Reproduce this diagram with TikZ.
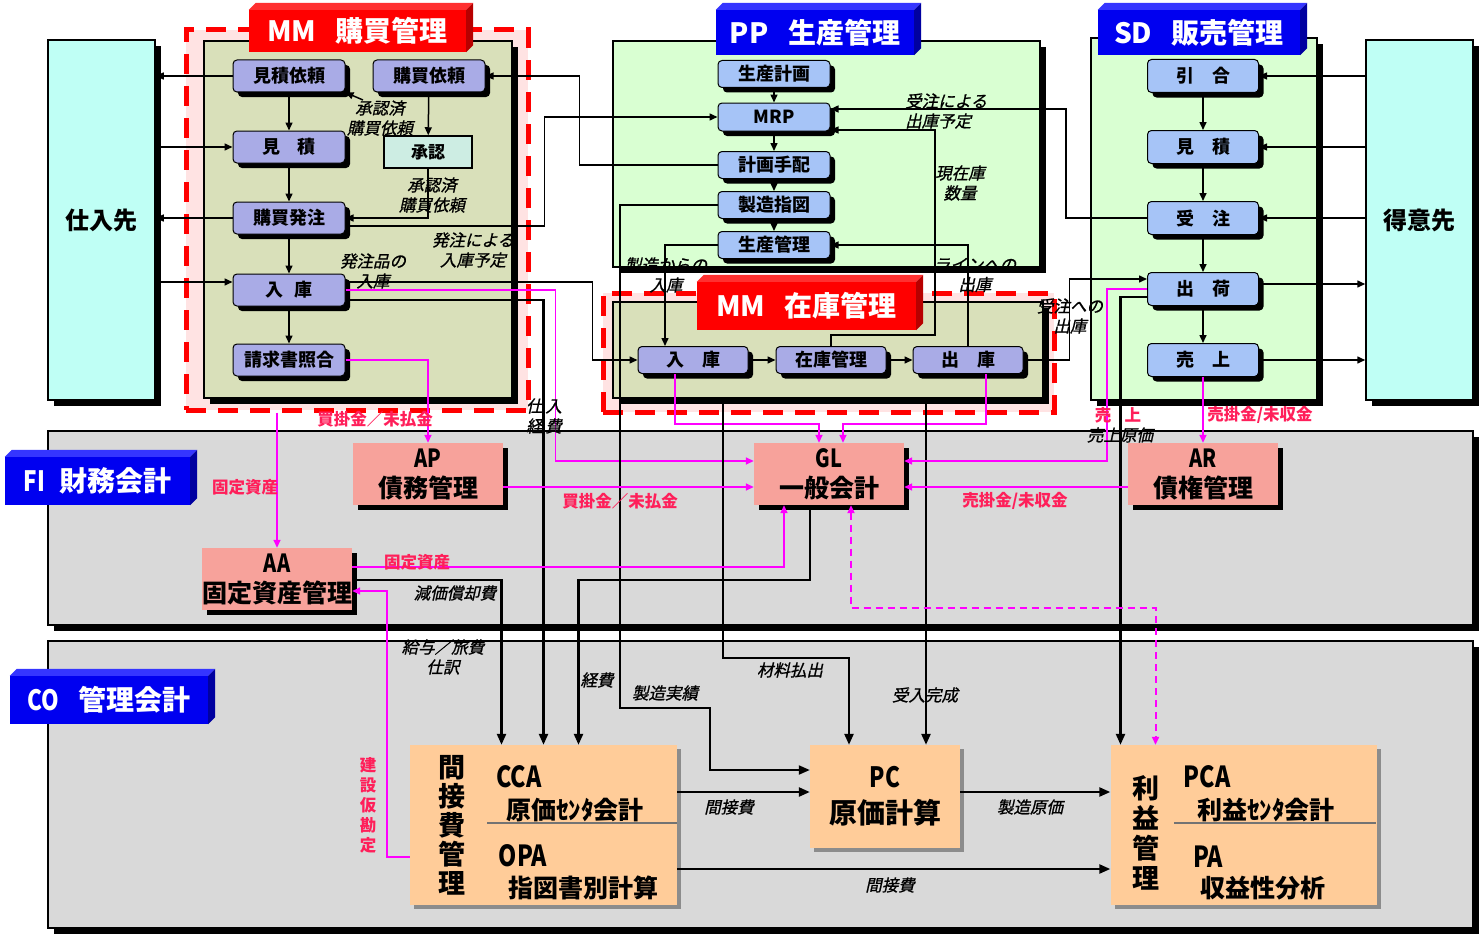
\documentclass[tikz,border=0pt]{standalone}
\usepackage{fontspec}
\setmainfont{Noto Sans CJK JP}[AutoFakeSlant=0.22]
\newfontfamily\nar{Noto Sans CJK JP}[FakeStretch=0.8]
\newfontfamily\lbfont{Noto Sans CJK JP}[FakeSlant=0.22,FakeBold=1]
\usepackage{tikz}
\usetikzlibrary{arrows.meta,positioning,calc,shadows}
\definecolor{cyanbox}{HTML}{BFFFF5}
\definecolor{olivebg}{HTML}{D9E0BA}
\definecolor{pinkbg}{HTML}{FFE3E3}
\definecolor{greenbg}{HTML}{D9FFD2}
\definecolor{graybg}{HTML}{D9D9D9}
\definecolor{lavnode}{HTML}{A9ABE6}
\definecolor{bluenode}{HTML}{A6C4F7}
\definecolor{apprbox}{HTML}{CDEDE3}
\definecolor{salmon}{HTML}{F7A29B}
\definecolor{peach}{HTML}{FFCC99}
\definecolor{banred}{HTML}{FF0000}
\definecolor{banredtop}{HTML}{FF3030}
\definecolor{banredside}{HTML}{B80000}
\definecolor{banblue}{HTML}{0000F0}
\definecolor{banbluetop}{HTML}{3535FF}
\definecolor{banblueside}{HTML}{0000A0}
\definecolor{mgnt}{HTML}{FF00FF}
\definecolor{lblred}{HTML}{FF1F5A}
\newcommand{\fz}[2]{\fontsize{#1}{#2}\selectfont}
% 3D-kant till rubrikskyltarna
\newcommand{\bandepth}[3]{%
  \fill[#2] (#1.north west) -- ++(7,-7) -- ([shift={(7,-7)}]#1.north east) -- (#1.north east) -- cycle;
  \fill[#3] (#1.north east) -- ++(7,-7) -- ([shift={(7,-7)}]#1.south east) -- (#1.south east) -- cycle;}
\tikzset{
  >={Triangle[length=8pt,width=7pt]},
  % ramar
  pnl/.style={rectangle,draw=black,line width=1.5pt,inner sep=0pt,
              drop shadow={shadow xshift=6pt,shadow yshift=-6pt,fill=black,opacity=1}},
  dfr/.style={rectangle,draw=banred,fill=pinkbg,line width=5pt,inner sep=0pt,
              dash pattern=on 20pt off 12pt},
  banr/.style={rectangle,fill=banred,text=white,inner sep=0pt,font=\fz{28}{28}\bfseries},
  banb/.style={banr,fill=banblue},
  % moduler
  mmn/.style={rectangle,rounded corners=4pt,draw=black,line width=1pt,fill=lavnode,
              minimum width=112pt,minimum height=32pt,inner sep=0pt,font=\fz{18}{18}\bfseries,
              drop shadow={shadow xshift=5pt,shadow yshift=-5pt,fill=black,opacity=1}},
  ppn/.style={mmn,fill=bluenode},
  apr/.style={rectangle,draw=black,line width=1.5pt,fill=apprbox,minimum width=88pt,
              minimum height=32pt,inner sep=0pt,font=\fz{17}{17}\bfseries},
  fin/.style={rectangle,fill=salmon,minimum width=150pt,minimum height=62pt,inner sep=0pt,
              align=center,font=\fz{25}{30}\bfseries,
              drop shadow={shadow xshift=5pt,shadow yshift=-5pt,fill=black,opacity=1}},
  con/.style={rectangle,fill=peach,inner sep=0pt,
              drop shadow={shadow xshift=4pt,shadow yshift=-4pt,fill=black!45,opacity=1}},
  ctx/.style={inner sep=0pt,align=center,font=\fz{25}{25}\bfseries},
  % flöden
  fl/.style={->,draw=black,line width=1.5pt},
  fk/.style={-{Triangle[length=11pt,width=9pt]},draw=black,line width=2.4pt},
  mg/.style={->,draw=mgnt,line width=1.5pt},
  lb/.style={inner sep=0pt,align=center,font=\lbfont\fz{16.5}{20}},
  rl/.style={lb,text=lblred,font=\fz{16.5}{20}\itshape\bfseries},
}
\begin{document}
\begin{tikzpicture}[x=1pt,y=-1pt]
  \useasboundingbox (0,0) rectangle (1481,934);

  % ramar
  \node[pnl,fill=graybg,minimum width=1425pt,minimum height=194pt] (fip) at (760.5,528) {};
  \node[pnl,fill=graybg,minimum width=1425pt,minimum height=287pt] (cop) at (760.5,784.5) {};
  \node[pnl,fill=cyanbox,minimum width=107pt,minimum height=360pt,font=\fz{24}{24}\bfseries]
     (vend) at (101.5,220) {仕入先};
  \node[pnl,fill=cyanbox,minimum width=107pt,minimum height=360pt,font=\fz{24}{24}\bfseries]
     (cust) at (1419.5,220) {得意先};
  \node[dfr,minimum width=342pt,minimum height=380pt] (mmx) at (357,220) {};
  \node[pnl,fill=olivebg,minimum width=308pt,minimum height=357pt] (mmp) at (358,219.5) {};
  \node[pnl,fill=greenbg,minimum width=427pt,minimum height=226pt] (ppp) at (826.5,154) {};
  \node[pnl,fill=greenbg,minimum width=226pt,minimum height=362pt] (sdp) at (1204,219) {};
  \node[dfr,minimum width=451pt,minimum height=119pt] (inx) at (828.5,352.5) {};
  \node[pnl,fill=olivebg,minimum width=430pt,minimum height=96pt] (inp) at (828,350) {};

  % skyltar
  \node[banr,minimum width=217pt,minimum height=42pt] (mmt) at (357.5,31) {MM\hspace{.7em}購買管理};
  \bandepth{mmt}{banredtop}{banredside}
  \node[banb,minimum width=198pt,minimum height=45pt] (ppt) at (815,32.5) {PP\hspace{.7em}生産管理};
  \bandepth{ppt}{banbluetop}{banblueside}
  \node[banb,minimum width=202pt,minimum height=45pt] (sdt) at (1199,32.5) {SD\hspace{.7em}販売管理};
  \bandepth{sdt}{banbluetop}{banblueside}
  \node[banr,minimum width=219pt,minimum height=48pt] (invt) at (806.5,306) {MM\hspace{.7em}在庫管理};
  \bandepth{invt}{banredtop}{banredside}
  \node[banb,minimum width=185pt,minimum height=48pt] (fit) at (97.5,481) {{\nar FI}\hspace{.5em}財務会計};
  \bandepth{fit}{banbluetop}{banblueside}
  \node[banb,minimum width=198pt,minimum height=48pt] (cot) at (109,700) {{\nar CO}\hspace{.7em}管理会計};
  \bandepth{cot}{banbluetop}{banblueside}

  % MM購買
  \node[mmn] (qreq) at (289,76) {見積依頼};
  \node[mmn] (preq) at (429,76) {購買依頼};
  \node[mmn,below=38pt of qreq] (quot) {見\hspace{.9em}積};
  \node[apr] (appr) at (428,152) {承認};
  \node[mmn,below=38pt of quot] (po) {購買発注};
  \node[mmn,below=39pt of po] (gr) {入\hspace{.6em}庫};
  \node[mmn,below=37pt of gr] (ivv) {請求書照合};

  % PP
  \node[ppn,minimum height=27pt] (plan) at (774,74) {生産計画};
  \node[ppn,minimum height=28pt] (mrp) at (774,117) {MRP};
  \node[ppn,minimum height=27pt] (plo) at (774,165) {計画手配};
  \node[ppn,minimum height=27pt] (mo) at (774,205) {製造指図};
  \node[ppn,minimum height=27pt] (pctl) at (774,245) {生産管理};

  % MM在庫
  \node[mmn,minimum width=110pt,minimum height=27pt] (igr) at (693,360) {入\hspace{1em}庫};
  \node[mmn,minimum width=110pt,minimum height=27pt,right=27pt of igr] (stk) {在庫管理};
  \node[mmn,minimum width=110pt,minimum height=27pt,right=26pt of stk] (igi) {出\hspace{1em}庫};

  % SD
  \node[ppn,minimum width=111pt,minimum height=33pt] (inq) at (1203,76) {引\hspace{1em}合};
  \node[ppn,minimum width=111pt,minimum height=33pt,below=37pt of inq] (sq) {見\hspace{1em}積};
  \node[ppn,minimum width=111pt,minimum height=33pt,below=37pt of sq] (so) {受\hspace{1em}注};
  \node[ppn,minimum width=111pt,minimum height=33pt,below=37pt of so] (shp) {出\hspace{1em}荷};
  \node[ppn,minimum width=111pt,minimum height=33pt,below=37pt of shp] (sal) {売\hspace{1em}上};

  % FI
  \node[fin] (ap) at (428,474) {{\nar AP}\\債務管理};
  \node[fin] (gl) at (829,474) {{\nar GL}\\一般会計};
  \node[fin] (ar) at (1203,474) {{\nar AR}\\債権管理};
  \node[fin] (aa) at (277,579) {{\nar AA}\\固定資産管理};

  % CO
  \node[con,minimum width=267pt,minimum height=160pt] (ovh) at (543.5,825) {};
  \node[ctx,font=\fz{27}{29}\bfseries] (ovhv) at (452,825) {間\\接\\費\\管\\理};
  \node[ctx,font=\nar\fz{29}{29}\bfseries] (cca) at (519,777) {CCA};
  \node[ctx] (ccat) at (575,810) {原価ｾﾝﾀ会計};
  \draw[draw=black!55,line width=1.5pt] (487,823) -- (677,823);
  \node[ctx,font=\nar\fz{29}{29}\bfseries] (opa) at (523,856) {OPA};
  \node[ctx] (opat) at (583,888) {指図書別計算};
  \node[con,minimum width=150pt,minimum height=103pt,align=center,font=\fz{28}{36}\bfseries]
     (pc) at (885,796.5) {{\nar PC}\\原価計算};
  \node[con,minimum width=266pt,minimum height=160pt] (prf) at (1243.5,825) {};
  \node[ctx,font=\fz{27}{30}\bfseries] (prfv) at (1146,833) {利\\益\\管\\理};
  \node[ctx,font=\nar\fz{29}{29}\bfseries] (pca) at (1207,777) {PCA};
  \node[ctx] (pcat) at (1266,810) {利益ｾﾝﾀ会計};
  \draw[draw=black!55,line width=1.5pt] (1174,823) -- (1376,823);
  \node[ctx,font=\nar\fz{29}{29}\bfseries] (pa) at (1208,857) {PA};
  \node[ctx] (pat) at (1263,888) {収益性分析};

  % hjälppunkter
  \coordinate (aok) at (363,100);
  \coordinate (gr-in) at ([yshift=8pt]gr.west);
  \coordinate (gr-a) at ([yshift=8pt]gr.east);
  \coordinate (gr-c) at ([yshift=-10pt]gr.east);
  \coordinate (po-b) at ([yshift=-8pt]po.east);
  \coordinate (mrp-a) at ([yshift=8pt]mrp.east);
  \coordinate (mrp-b) at ([yshift=-13pt]mrp.east);
  \coordinate (igr-n) at ([xshift=-28pt]igr.north);
  \coordinate (igr-s) at ([xshift=-18pt]igr.south);
  \coordinate (igr-m) at ([xshift=30pt]igr.south);
  \coordinate (igi-s) at ([xshift=18pt]igi.south);
  \coordinate (igi-m) at ([xshift=-42pt]igi.south);
  \coordinate (shp-a) at ([yshift=10pt]shp.west);
  \coordinate (shp-b) at ([yshift=-8pt]shp.west);
  \coordinate (shp-o) at ([yshift=5pt]shp.east);
  \coordinate (gl-a) at ([yshift=13pt]gl.west);
  \coordinate (gl-e1) at ([yshift=13pt]gl.east);
  \coordinate (gl-w2) at ([yshift=-13pt]gl.west);
  \coordinate (gl-e2) at ([yshift=-13pt]gl.east);
  \coordinate (gl-n1) at ([xshift=-10pt]gl.north);
  \coordinate (gl-n2) at ([xshift=14pt]gl.north);
  \coordinate (gl-s1) at ([xshift=-45pt]gl.south);
  \coordinate (gl-s2) at ([xshift=-19pt]gl.south);
  \coordinate (gl-s3) at ([xshift=22pt]gl.south);
  \coordinate (ap-e) at ([yshift=-13pt]ap.east);
  \coordinate (ar-w) at ([yshift=-13pt]ar.west);
  \coordinate (aa-e1) at ([yshift=12pt]aa.east);
  \coordinate (aa-e2) at ([yshift=-1pt]aa.east);
  \coordinate (aa-e3) at ([yshift=-12pt]aa.east);
  \coordinate (ovh-n1) at ([xshift=-42pt]ovh.north);
  \coordinate (ovh-n3) at ([xshift=35pt]ovh.north);
  \coordinate (ovh-w) at ([yshift=-32pt]ovh.west);
  \coordinate (ovh-e1) at ([yshift=33pt]ovh.east);
  \coordinate (ovh-e2) at ([yshift=-44pt]ovh.east);
  \coordinate (pc-a) at ([yshift=26.5pt]pc.west);
  \coordinate (pc-e) at ([yshift=4.5pt]pc.east);
  \coordinate (pc-n1) at ([xshift=-36pt]pc.north);
  \coordinate (pc-n2) at ([xshift=41pt]pc.north);
  \coordinate (prf-n1) at ([xshift=-123pt]prf.north);
  \coordinate (prf-n2) at ([xshift=-88pt]prf.north);

  % MM購買の流れ
  \draw[fl] (qreq) -- (quot);
  \draw[fl] (quot) -- (po);
  \draw[fl] (po) -- (gr);
  \draw[fl] (gr) -- (ivv);
  \draw[fl] (preq) -- (appr);
  \draw[fl] (appr.south) |- (po.east);
  \draw[fl] (aok) -- (qreq.south east);
  \draw[fl] (qreq.west) -- (qreq.west -| vend.east);
  \draw[fl] (quot.west -| vend.east) -- (quot.west);
  \draw[fl] (po.west) -- (po.west -| vend.east);
  \draw[fl] (gr-in -| vend.east) -- (gr-in);
  \draw[fl] (gr-a) -- ++(247,0) |- (igr.west);
  \draw[mg] (gr.east) -- ++(210,0) |- (gl-a);
  \draw[fk] (gr-c) -| (ovh.north);
  \draw[fl] (po-b) -- ++(199,0) |- (mrp.west);
  \draw[fl] (plo.west) -- ++(-138,0) |- (preq.east);

  % PP
  \draw[fl] (plan) -- (mrp);
  \draw[fl] (mrp) -- (plo);
  \draw[fl] (plo) -- (mo);
  \draw[fl] (mo) -- (pctl);
  \draw[fl] (so.west) -- ++(-81,0) |- (mrp-a);
  \draw[fl] (stk.north) -- ++(0,-11) -| ++(104,-205) -- (mrp-b);
  \draw[fl] (igi.north) |- (pctl.east);
  \draw[fl] (pctl.west) -| (igr-n);
  \draw[fk,line width=2pt] (mo.west) -- ++(-98,0) |- ++(90,503) |- (pc-a);

  % MM在庫
  \draw[fl] (igr) -- (stk);
  \draw[fl] (stk) -- (igi);
  \draw[mg] (igr-s) -- ++(0,50) -| (gl-n1);
  \draw[mg] (igi-s) -- ++(0,50) -| (gl-n2);
  \draw[fl] (igi.east) -- ++(46,0) |- (shp-a);
  \draw[fk,shorten <=24pt] (igr-m) -- ++(0,284) -| (pc-n1);
  \draw[fk,shorten <=24pt] (igi-m) -- (pc-n2);

  % SD
  \draw[fl] (inq) -- (sq);
  \draw[fl] (sq) -- (so);
  \draw[fl] (so) -- (shp);
  \draw[fl] (shp) -- (sal);
  \draw[fl] (inq.east -| cust.west) -- (inq.east);
  \draw[fl] (sq.east -| cust.west) -- (sq.east);
  \draw[fl] (so.east -| cust.west) -- (so.east);
  \draw[fl] (shp-o) -- (shp-o -| cust.west);
  \draw[fl] (sal.east) -- (sal.east -| cust.west);
  \draw[mg] (shp.west) -- ++(-40,0) |- (gl-e1);
  \draw[fk] (shp-b) -| (prf-n1);
  \draw[mg] (sal) -- (ar);

  % FI
  \draw[mg] (ivv.east) -| (ap.north);
  \draw[mg] (aa.north |- mmx.south) -- (aa.north);
  \draw[mg] (ap-e) -- (gl-w2);
  \draw[mg] (ar-w) -- (gl-e2);
  \draw[mg] (aa-e1) -| (gl-s1);
  \draw[fk] (gl-s2) -- ++(0,75) -| (ovh-n3);
  \draw[fk] (aa-e2) -| (ovh-n1);
  \draw[mg] (ovh-w) -- ++(-23,0) |- (aa-e3);
  \draw[mg,<->,line width=2pt,dash pattern=on 7pt off 5pt] (gl-s3) -- ++(0,103) -| (prf-n2);

  % CO
  \draw[fk] (ovh-e1) -- (ovh-e1 -| pc.west);
  \draw[fk] (pc-e) -- (pc-e -| prf.west);
  \draw[fk] (ovh-e2) -- (ovh-e2 -| prf.west);

  % etiketter
  \node[lb] (l1) at (380,118) {承認済\\購買依頼};
  \node[lb] (l2) at (432,195) {承認済\\購買依頼};
  \node[lb] (l3) at (473,250) {発注による\\入庫予定};
  \node[lb] (l4) at (373,271) {発注品の\\入庫};
  \node[lb,align=left,anchor=west] (l5) at (905,111) {受注による\\出庫予定};
  \node[lb] (l6) at (960,183) {現在庫\\数量};
  \node[lb] (l7) at (666,275) {製造からの\\入庫};
  \node[lb] (l8) at (975,275) {ラインへの\\出庫};
  \node[lb] (l9) at (1070,316) {受注への\\出庫};
  \node[rl] (l10) at (1118,415) {売\hspace{.8em}上};
  \node[lb] (l11) at (1120,435) {売上原価};
  \node[rl] (l12) at (1260,415) {売掛金/未収金};
  \node[rl] (l13) at (375,419) {買掛金／未払金};
  \node[lb] (l14) at (544,416) {仕\,入\\経\,費};
  \node[rl] (l15) at (245,487) {固定資産};
  \node[rl] (l16) at (620,501) {買掛金／未払金};
  \node[rl] (l17) at (1015,501) {売掛金/未収金};
  \node[rl] (l18) at (417,562) {固定資産};
  \node[lb] (l19) at (455,593) {減価償却費};
  \node[lb] (l20) at (443,657) {給与／旅費\\仕訳};
  \node[lb] (l21) at (597,680) {経費};
  \node[lb] (l22) at (665,693) {製造実績};
  \node[lb] (l23) at (790,670) {材料払出};
  \node[lb] (l24) at (925,695) {受入完成};
  \node[rl] (l25) at (368,805) {建\\設\\仮\\勘\\定};
  \node[lb] (l26) at (729,807) {間接費};
  \node[lb] (l27) at (1030,807) {製造原価};
  \node[lb] (l28) at (890,885) {間接費};
\end{tikzpicture}
\end{document}
